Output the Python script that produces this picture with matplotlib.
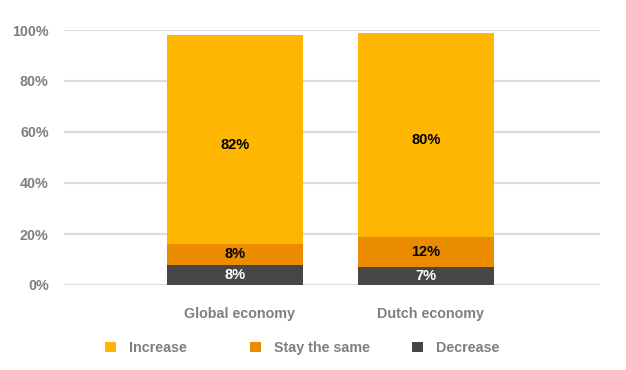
import matplotlib.pyplot as plt
from matplotlib.patches import Patch
import numpy as np

categories = ["Global economy", "Dutch economy"]
decrease = [8, 7]
stay_same = [8, 12]
increase = [82, 80]
series_names = ["Increase", "Stay the same", "Decrease"]
colors = {"Increase": "#FFB600", "Stay the same": "#EB8C00", "Decrease": "#464646"}

plt.rcParams["font.family"] = ["Liberation Sans", "DejaVu Sans"]
plt.rcParams["font.weight"] = "bold"

fig = plt.figure(figsize=(6.26, 3.7), dpi=100)
ax = fig.add_axes([64 / 626, 85 / 370, 536 / 626, 255 / 370])

x = np.arange(len(categories))
w = 0.712
dec = np.array(decrease)
stay = np.array(stay_same)
inc = np.array(increase)

ax.bar(x, dec, w, color=colors["Decrease"], zorder=3)
ax.bar(x, stay, w, bottom=dec, color=colors["Stay the same"], zorder=3)
ax.bar(x, inc, w, bottom=dec + stay, color=colors["Increase"], zorder=3)

lab = dict(ha="center", va="center", fontsize=10.5, fontweight="bold", zorder=4)
for i in range(len(categories)):
    ax.text(x[i], dec[i] / 2, f"{dec[i]}%", color="white", **lab)
    ax.text(x[i], dec[i] + stay[i] / 2, f"{stay[i]}%", color="black", **lab)
    ax.text(x[i], dec[i] + stay[i] + inc[i] / 2 - 2, f"{inc[i]}%", color="black", **lab)

ax.set_xlim(-0.895, 1.911)
ax.set_ylim(0, 100)
ax.set_yticks(range(0, 101, 20))
ax.set_yticklabels([f"{v}%" for v in range(0, 101, 20)])
ax.set_xticks(x + 0.025)
ax.set_xticklabels(categories, fontsize=10)
ax.tick_params(axis="both", length=0, colors="#7f7f7f", labelsize=10.3)
ax.tick_params(axis="y", pad=11)
ax.tick_params(axis="x", pad=16)
ax.grid(axis="y", color="#dcdcdc", linewidth=1.6, zorder=0)
for s in ax.spines.values():
    s.set_visible(False)

# one legend per entry so the spacing matches the original
legend_x = [105, 250, 412]
for name, lx in zip(series_names, legend_x):
    leg = fig.legend([Patch(facecolor=colors[name], edgecolor="none")], [name],
                     loc="center left", bbox_to_anchor=(lx / 626, 1 - 348 / 370),
                     frameon=False, handlelength=0.75, handleheight=0.75,
                     handletextpad=0.9, borderpad=0, borderaxespad=0, fontsize=10.3)
    for t in leg.get_texts():
        t.set_color("#7f7f7f")

fig.savefig("out.png", dpi=100)
